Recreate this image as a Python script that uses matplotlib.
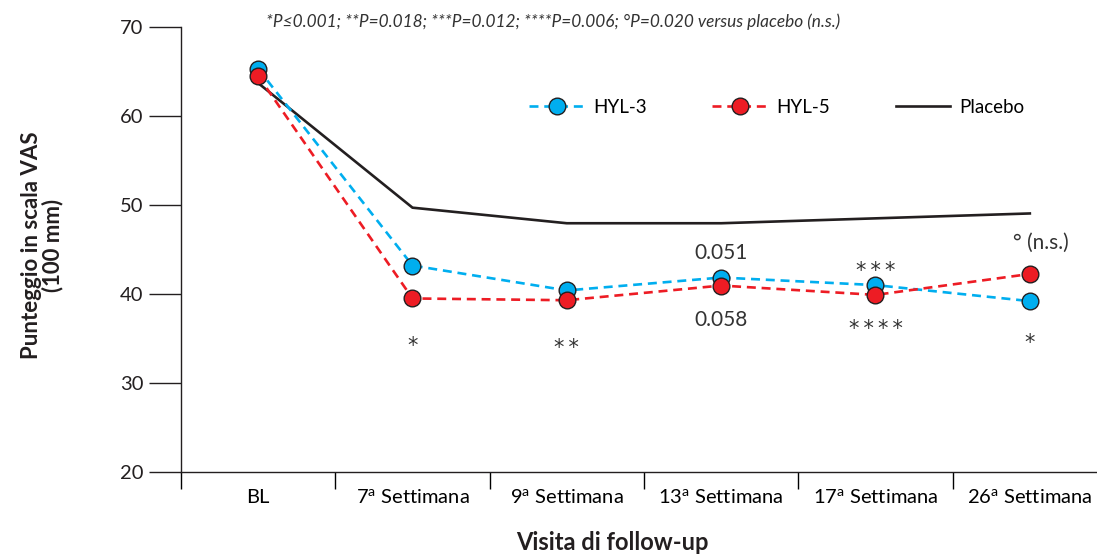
import matplotlib

matplotlib.use('Agg')
import matplotlib.pyplot as plt

plt.rcParams['font.family'] = ['Lato', 'DejaVu Sans']
plt.rcParams['mathtext.fontset'] = 'custom'
plt.rcParams['mathtext.rm'] = 'Lato'

# Data
visits = ['BL', '7$^{\\mathrm{a}}$ Settimana', '9$^{\\mathrm{a}}$ Settimana',
          '13$^{\\mathrm{a}}$ Settimana', '17$^{\\mathrm{a}}$ Settimana',
          '26$^{\\mathrm{a}}$ Settimana']
hyl3 = [65.3, 43.2, 40.4, 41.85, 41.0, 39.2]
hyl5 = [64.5, 39.5, 39.3, 40.95, 39.9, 42.25]
placebo = [63.7, 49.7, 47.95, 47.95, 48.5, 49.05]

# p-value labels: (visit index, y value, text)
pvals = [(3, 44.6, '0.051'), (3, 37.1, '0.058'), (5.07, 45.7, '° (n.s.)')]
stars = [(1, 34.2, 1), (2, 33.95, 2), (4, 42.6, 3), (4, 36.1, 4), (5, 34.5, 1)]

blue = '#00aeef'
red = '#ed1c24'
dark = '#231f20'

fig = plt.figure(figsize=(10.97, 5.55), dpi=100)
ax = fig.add_axes([181 / 1097, 1 - 472 / 555, (1107 - 181) / 1097, (472 - 27) / 555])

x = list(range(len(visits)))
ax.plot(x, placebo, color=dark, lw=1.9, label='Placebo', zorder=2)
ax.plot(x, hyl3, color=blue, lw=1.9, ls=(0, (3.4, 2.2)), marker='o', ms=12,
        mfc=blue, mec=dark, mew=1.0, label='HYL-3', zorder=3)
ax.plot(x, hyl5, color=red, lw=1.9, ls=(0, (3.4, 2.2)), marker='o', ms=12,
        mfc=red, mec=dark, mew=1.0, label='HYL-5', zorder=4)

for i, yv, txt in pvals:
    ax.text(i, yv, txt, ha='center', va='center', fontsize=15, color='#333333')
for i, yv, n in stars:
    ax.text(i, yv, '\u2009'.join('*' * n), ha='center', va='center', fontsize=15,
            color='#333333', family='DejaVu Sans')

ax.set_xlim(-0.5, 5.5)
ax.set_ylim(20, 70)
ax.set_yticks([20, 30, 40, 50, 60, 70])
ax.tick_params(axis='y', length=23, width=1, labelsize=14.5, colors=dark, pad=4)

# category labels between boundary ticks
ax.set_xticks([-0.5, 0.5, 1.5, 2.5, 3.5, 4.5])
ax.set_xticklabels([])
ax.set_xticks(x, minor=True)
ax.set_xticklabels(visits, minor=True, fontsize=14.5)
ax.tick_params(axis='x', which='major', length=12, width=1)
ax.tick_params(axis='x', which='minor', length=0, pad=12)

for s in ['top', 'right']:
    ax.spines[s].set_visible(False)
for s in ['left', 'bottom']:
    ax.spines[s].set_linewidth(1)
    ax.spines[s].set_color(dark)

h, l = ax.get_legend_handles_labels()
ax.legend([h[1], h[2], h[0]], [l[1], l[2], l[0]], loc='upper left',
          bbox_to_anchor=(0.358, 0.877), ncol=3, frameon=False, fontsize=13.5,
          handlelength=2.9, columnspacing=3.5, handletextpad=0.5)

fig.text(553 / 1097, 1 - 22 / 555,
         '*P≤0.001; **P=0.018; ***P=0.012; ****P=0.006; °P=0.020 versus placebo (n.s.)',
         ha='center', va='center', fontsize=12.4, style='italic', color='#333333')
fig.text(612 / 1097, 1 - 542 / 555, 'Visita di follow-up', ha='center', va='center',
         fontsize=17, fontweight='bold', color=dark)
fig.text(42 / 1097, 1 - 245 / 555, 'Punteggio in scala VAS\n(100 mm)', ha='center',
         va='center', rotation=90, fontsize=16, fontweight='bold', color=dark,
         linespacing=1.0)

fig.savefig('out.png', dpi=100)
